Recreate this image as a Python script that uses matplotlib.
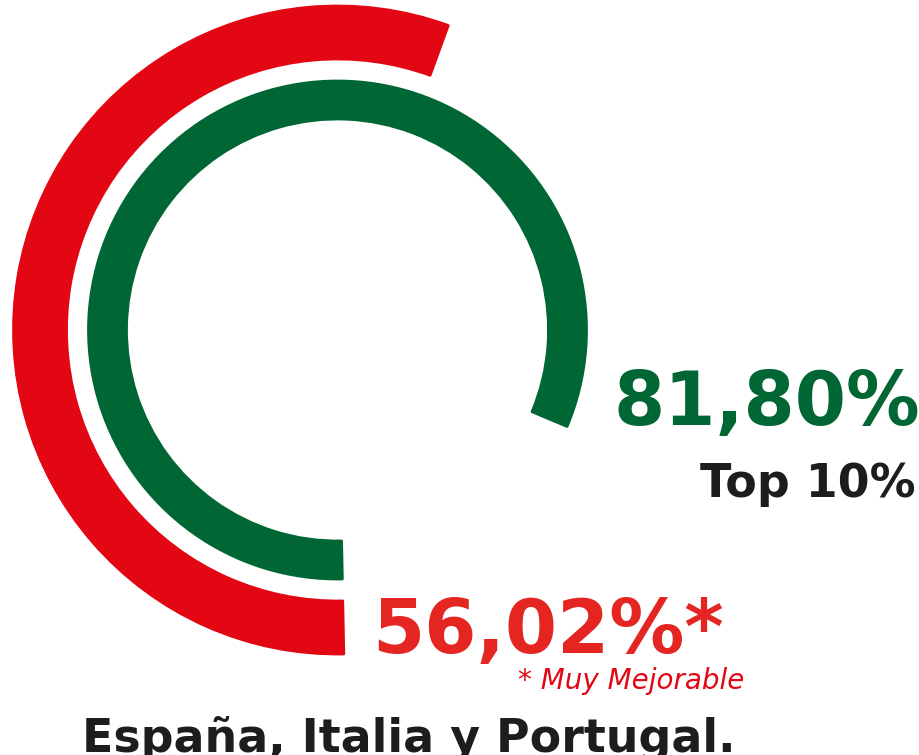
import matplotlib
matplotlib.use('Agg')
import matplotlib.pyplot as plt
import numpy as np

# values shown in the chart (percent)
labels = ['Top 10%', 'Muy Mejorable']
values = [81.80, 56.02]
value_texts = ['81,80%', '56,02%*']
region = 'España, Italia y Portugal.'
note = '* Muy Mejorable'

arc_colors = ['#006633', '#E30613']
# ring radii in pixels (inner, outer)
rings = [(210, 250), (270, 325)]

W, H = 920, 755
fig = plt.figure(figsize=(W / 100, H / 100), dpi=100)

cx, cy, R = 337.5, 330, 330
ax = fig.add_axes([(cx - R) / W, (H - cy - R) / H, 2 * R / W, 2 * R / H], projection='polar')
ax.set_theta_zero_location('S')
ax.set_theta_direction(-1)
ax.set_ylim(0, R)
ax.axis('off')

# arcs start just right of 6 o'clock and run clockwise
start = np.deg2rad(-1.4)
full = 2 * np.pi
for val, col, (r0, r1) in zip(values, arc_colors, rings):
    w = val / 100 * full
    ax.bar(start + w / 2, r1 - r0 - 2, width=w - 0.01, bottom=r0 + 1, color=col,
           edgecolor=col, linewidth=2, joinstyle='round')

def px(x, y):
    return x / W, 1 - y / H

font = 'DejaVu Sans'
fig.text(*px(614, 425), value_texts[0], color='#006633', fontsize=53, fontweight='bold',
         family=font, ha='left', va='baseline')
fig.text(*px(916, 497), labels[0], color='#1D1D1B', fontsize=33, fontweight='bold',
         family=font, ha='right', va='baseline')
fig.text(*px(372, 653), value_texts[1], color='#E52521', fontsize=54, fontweight='bold',
         family=font, ha='left', va='baseline')
fig.text(*px(744, 689), note, color='#E30613', fontsize=20, style='italic',
         family=font, ha='right', va='baseline')
fig.text(*px(82, 752), region, color='#1D1D1B', fontsize=33, fontweight='bold',
         family=font, ha='left', va='baseline')

fig.savefig('out.png', dpi=100)
